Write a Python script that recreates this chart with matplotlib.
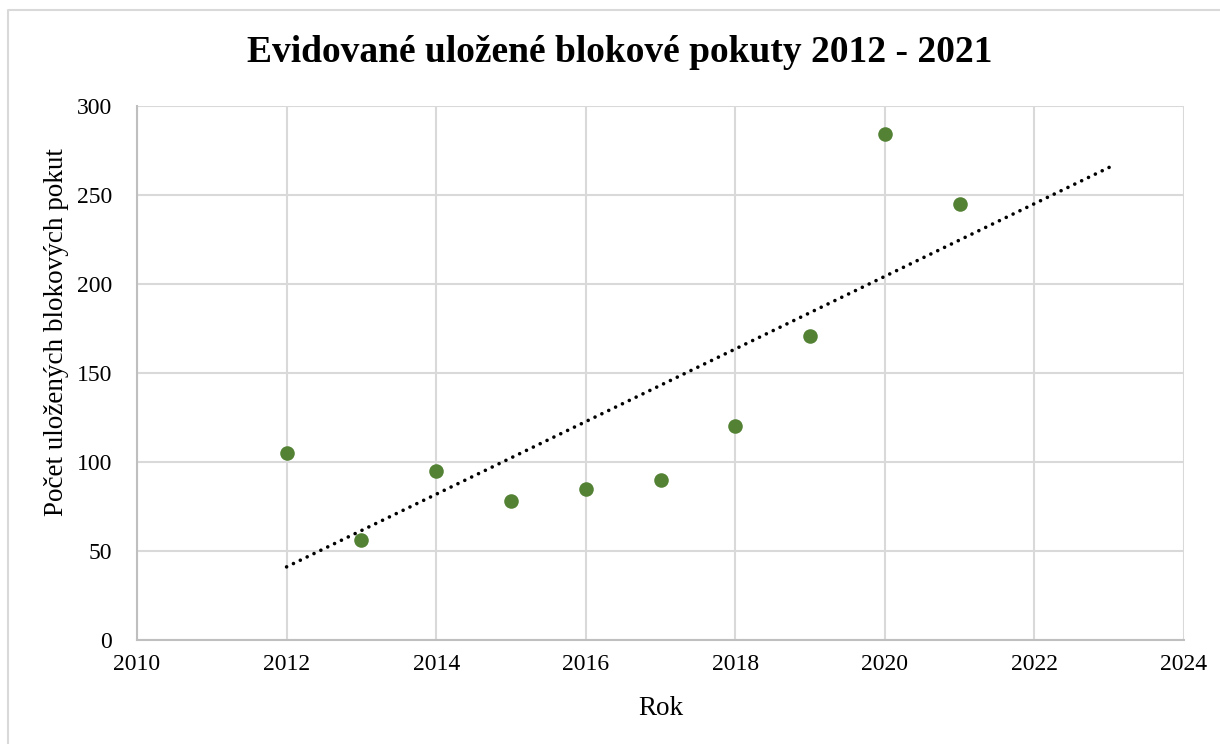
import matplotlib.pyplot as plt
from matplotlib.lines import Line2D
import numpy as np

plt.rcParams['font.family'] = ['Liberation Serif', 'DejaVu Serif']

roky = [2012, 2013, 2014, 2015, 2016, 2017, 2018, 2019, 2020, 2021]
pokuty = [105, 56, 95, 78, 85, 90, 120, 171, 284, 245]
x_ticks = [2010, 2012, 2014, 2016, 2018, 2020, 2022, 2024]
y_ticks = [0, 50, 100, 150, 200, 250, 300]

fig = plt.figure(figsize=(12.2, 7.44), dpi=100)
ax = fig.add_axes([0.1123, 0.1398, 0.8582, 0.7177])

# ramecek grafu (jen levy a horni okraj, zbytek je oriznuty)
fig.add_artist(Line2D([0.0066, 0.0066, 1.01], [-0.01, 0.9866, 0.9866],
                      transform=fig.transFigure, color='#D9D9D9', linewidth=1.5))

ax.scatter(roky, pokuty, s=110, color='#548235', zorder=3, linewidths=0)

# linearni trend, prodlouzeny o 2 roky dopredu
koef = np.polyfit(roky, pokuty, 1)
x_fit = np.array([roky[0], roky[-1] + 2])
ax.plot(x_fit, np.polyval(koef, x_fit), color='black', linewidth=2.6,
        linestyle=(0, (0.01, 2.1)), dash_capstyle='round', zorder=4)

ax.set_xlim(2010, 2024)
ax.set_ylim(0, 300)
ax.set_xticks(x_ticks)
ax.set_yticks(y_ticks)
ax.grid(True, color='#D9D9D9', linewidth=1.5)
ax.set_axisbelow(True)
for s in ['top', 'right']:
    ax.spines[s].set_visible(False)
for s in ['left', 'bottom']:
    ax.spines[s].set_color('#BFBFBF')
    ax.spines[s].set_linewidth(1.5)
ax.tick_params(length=0, labelsize=17, pad=10)
ax.tick_params(axis='y', pad=18)

ax.set_xlabel('Rok', fontsize=19.5)
ax.xaxis.set_label_coords(0.5, -0.104)
ax.set_ylabel('Počet uložených blokových pokut', fontsize=19.5)
ax.yaxis.set_label_coords(-0.065, 0.576)
fig.text(0.508, 0.930, 'Evidované uložené blokové pokuty 2012 - 2021',
         fontsize=27, fontweight='bold', ha='center', va='center')

plt.savefig('out.png', dpi=100)
